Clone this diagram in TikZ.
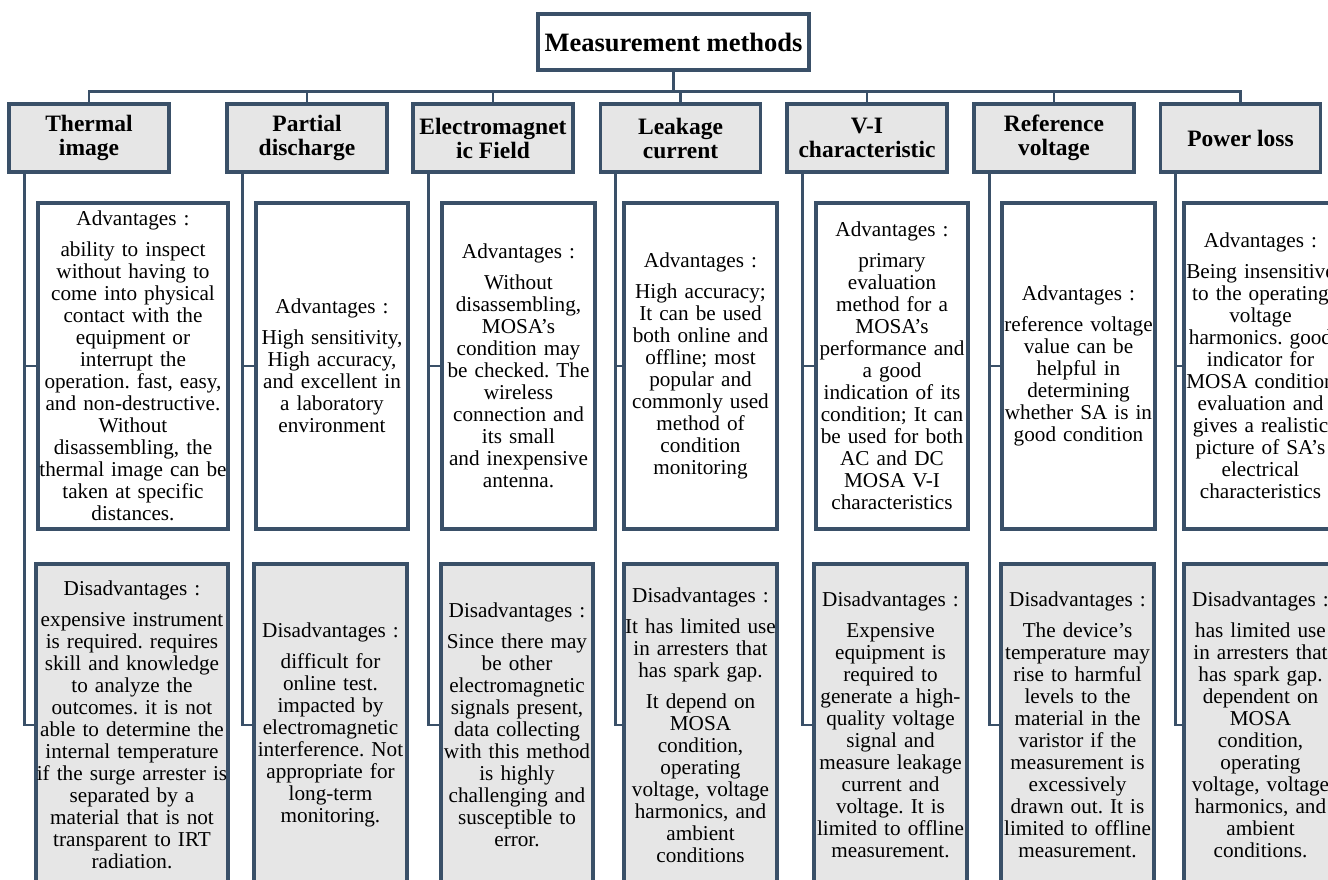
\documentclass[tikz,border=0pt]{standalone}
\usepackage{fontspec}
\setmainfont{Liberation Serif}
\frenchspacing
\definecolor{dk}{HTML}{3A5068}
\definecolor{gr}{HTML}{E6E6E6}
\newcommand\bodyfont{\fontsize{21.2}{22}\selectfont}
\newcommand\hdrfont{\fontsize{23.5}{24}\selectfont\bfseries}
\newcommand\rootfont{\fontsize{26.5}{28}\selectfont\bfseries}
\begin{document}
\begin{tikzpicture}[x=1pt,y=-1pt,
  conn/.style={draw=dk, line width=2.7pt},
  boxbase/.style={draw=dk, line width=3.5pt, align=center, inner ysep=0pt},
  rootbox/.style={boxbase, fill=white, font=\rootfont, minimum width=271pt, minimum height=56pt, inner xsep=0pt},
  hdr/.style={boxbase, fill=gr, font=\hdrfont, minimum width=160pt, minimum height=68pt, inner xsep=0pt},
  adv/.style={boxbase, fill=white, font=\bodyfont, text width=#1, inner xsep=-12pt, minimum height=326pt},
  dis/.style={boxbase, fill=gr, font=\bodyfont, text width=#1, inner xsep=-12pt, minimum height=322pt},
]
\useasboundingbox (0,0) rectangle (1328,880);
\clip (0,0) rectangle (1328,880);

% root
\node[rootbox] (root) at (673.5,42) {Measurement methods};

% headers
\node[hdr] (h1) at (89,138)     {Thermal\\image};
\node[hdr] (h2) at (307,138)    {Partial\\discharge};
\node[hdr] (h3) at (493,138)    {Electromagnet\\ic Field};
\node[hdr] (h4) at (680.5,138)  {Leakage\\current};
\node[hdr] (h5) at (867,138)    {V-I\\characteristic};
\node[hdr] (h6) at (1054,138)   {Reference\\voltage};
\node[hdr] (h7) at (1240.5,138) {Power loss};

% advantages
\node[adv=214pt] (a1) at (133,366) {Advantages :\\[9pt]
ability to inspect\\without having to\\come into physical\\contact with the\\equipment or\\interrupt the\\operation. fast, easy,\\and non-destructive.\\Without\\disassembling, the\\thermal image can be\\taken at specific\\distances.};
\node[adv=176pt] (a2) at (332,366) {Advantages :\\[9pt]
High sensitivity,\\High accuracy,\\and excellent in\\a laboratory\\environment};
\node[adv=177pt] (a3) at (518.5,366) {Advantages :\\[9pt]
Without\\disassembling,\\MOSA’s\\condition may\\be checked. The\\wireless\\connection and\\its small\\and inexpensive\\antenna.};
\node[adv=177pt] (a4) at (700.5,366) {Advantages :\\[9pt]
High accuracy;\\It can be used\\both online and\\offline; most\\popular and\\commonly used\\method of\\condition\\monitoring};
\node[adv=176pt] (a5) at (892,366) {Advantages :\\[9pt]
primary\\evaluation\\method for a\\MOSA's\\performance and\\a good\\indication of its\\condition; It can\\be used for both\\AC and DC\\MOSA V-I\\characteristics};
\node[adv=177pt] (a6) at (1078.5,366) {Advantages :\\[9pt]
reference voltage\\value can be\\helpful in\\determining\\whether SA is in\\good condition};
\node[adv=177pt] (a7) at (1260.5,366) {Advantages :\\[9pt]
Being insensitive\\to the operating\\voltage\\harmonics. good\\indicator for\\MOSA condition\\evaluation and\\gives a realistic\\picture of SA's\\electrical\\characteristics};

% disadvantages
\node[dis=216pt] (d1) at (132,725) {Disadvantages :\\[9pt]
expensive instrument\\is required. requires\\skill and knowledge\\to analyze the\\outcomes. it is not\\able to determine the\\internal temperature\\if the surge arrester is\\separated by a\\material that is not\\transparent to IRT\\radiation.};
\node[dis=177pt] (d2) at (330.5,725) {Disadvantages :\\[9pt]
difficult for\\online test.\\impacted by\\electromagnetic\\interference. Not\\appropriate for\\long-term\\monitoring.};
\node[dis=176pt] (d3) at (517,725) {Disadvantages :\\[9pt]
Since there may\\be other\\electromagnetic\\signals present,\\data collecting\\with this method\\is highly\\challenging and\\susceptible to\\error.};
\node[dis=177pt] (d4) at (700.5,725) {Disadvantages :\\[9pt]
It has limited use\\in arresters that\\has spark gap.\\[9pt]
It depend on\\MOSA\\condition,\\operating\\voltage, voltage\\harmonics, and\\ambient\\conditions};
\node[dis=177pt] (d5) at (890.5,725) {Disadvantages :\\[9pt]
Expensive\\equipment is\\required to\\generate a high-\\quality voltage\\signal and\\measure leakage\\current and\\voltage. It is\\limited to offline\\measurement.};
\node[dis=177pt] (d6) at (1077.5,725) {Disadvantages :\\[9pt]
The device's\\temperature may\\rise to harmful\\levels to the\\material in the\\varistor if the\\measurement is\\excessively\\drawn out. It is\\limited to offline\\measurement.};
\node[dis=177pt] (d7) at (1260.5,725) {Disadvantages :\\[9pt]
has limited use\\in arresters that\\has spark gap.\\dependent on\\MOSA\\condition,\\operating\\voltage, voltage\\harmonics, and\\ambient\\conditions.};

% connectors
\foreach \i in {1,...,7}{
  \draw[conn] (root.south) -- ++(0,20) -| (h\i.north);
  \draw[conn] ([xshift=17pt]h\i.south west) |- (a\i.west);
  \draw[conn] ([xshift=17pt]h\i.south west) |- (d\i.west);
}
\end{tikzpicture}
\end{document}
